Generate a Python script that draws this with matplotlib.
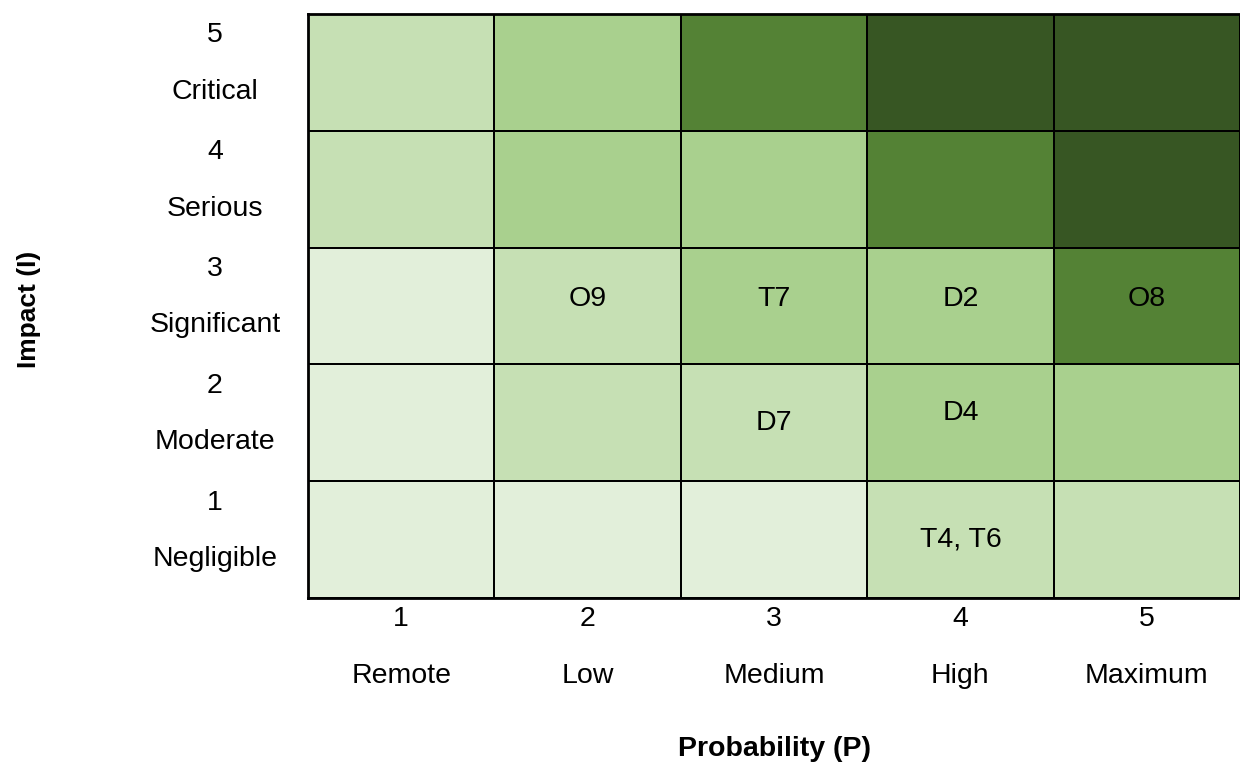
import matplotlib.pyplot as plt
from matplotlib.colors import ListedColormap
from matplotlib.transforms import ScaledTranslation
import numpy as np

plt.rcParams['font.family'] = ['Liberation Sans', 'DejaVu Sans']

prob_levels = ["1", "2", "3", "4", "5"]
prob_names = ["Remote", "Low", "Medium", "High", "Maximum"]
impact_levels = ["1", "2", "3", "4", "5"]
impact_names = ["Negligible", "Moderate", "Significant", "Serious", "Critical"]

# risk level per cell, rows = impact 1..5, cols = probability 1..5
risk = [
    [1, 1, 1, 2, 2],
    [1, 2, 2, 3, 3],
    [1, 2, 3, 3, 4],
    [2, 3, 3, 4, 5],
    [2, 3, 4, 5, 5],
]
level_colors = ["#e2efda", "#c6e0b4", "#a9d08e", "#548235", "#375623"]

# (probability, impact, label, vertical nudge in points)
items = [
    (2, 3, "O9", 5),
    (3, 3, "T7", 5),
    (4, 3, "D2", 5),
    (5, 3, "O8", 5),
    (3, 2, "D7", 0),
    (4, 2, "D4", 7),
    (4, 1, "T4, T6", 0),
]

FS = 20.5

fig = plt.figure(figsize=(12.4, 7.63), dpi=100)
ax = fig.add_axes([0.2484, 0.2163, 0.7516, 0.7654])

cmap = ListedColormap(level_colors)
x_edges = np.arange(0.5, 6.0, 1.0)
y_edges = np.arange(0.5, 6.0, 1.0)
ax.pcolormesh(x_edges, y_edges, np.array(risk), cmap=cmap, vmin=0.5, vmax=5.5,
              edgecolors="black", linewidth=1.2)
ax.set_xlim(0.5, 5.5)
ax.set_ylim(0.5, 5.5)

for p, i, label, dy in items:
    ax.annotate(label, (p, i), xytext=(0, dy), textcoords="offset points",
                ha="center", va="center", fontsize=FS, color="black")

ax.set_xticks(range(1, 6))
ax.set_xticklabels([f"{n}\n{name}" for n, name in zip(prob_levels, prob_names)],
                   fontsize=FS, linespacing=2.52)
ax.set_yticks(range(1, 6))
ax.set_yticklabels([f"{n}\n{name}" for n, name in zip(impact_levels, impact_names)],
                   fontsize=FS, linespacing=2.52, ha="center")
ax.tick_params(length=0)
ax.tick_params(axis="y", pad=67)
ax.tick_params(axis="x", pad=6)

# lift the impact labels a little above the row centres
shift = ScaledTranslation(0, 27 / 100, fig.dpi_scale_trans)
for lbl in ax.get_yticklabels():
    lbl.set_transform(lbl.get_transform() + shift)

for side in ["top", "bottom", "left"]:
    ax.spines[side].set_linewidth(2)
ax.spines["right"].set_visible(False)

fig.text(0.625, 0.0185, "Probability (P)", ha="center", va="center",
         fontsize=FS, fontweight="bold")
fig.text(0.023, 0.594, "Impact (I)", ha="center", va="center", rotation=90,
         fontsize=19, fontweight="bold")

fig.savefig("out.png", dpi=100)
